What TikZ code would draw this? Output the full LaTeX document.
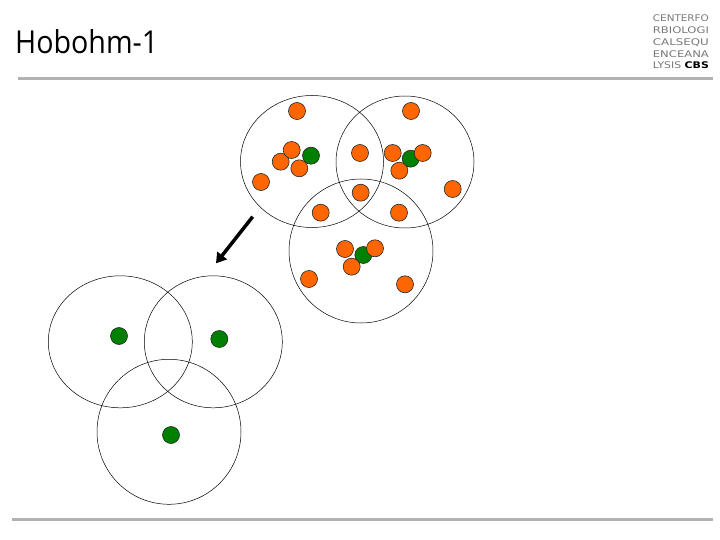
\documentclass[tikz,border=0pt]{standalone}
\usepackage{fontspec}
\setmainfont{DejaVu Sans}
\newfontfamily\titlefont{Open Sans}
\usetikzlibrary{arrows.meta}
\definecolor{dotorange}{RGB}{255,102,0}
\definecolor{dotgreen}{RGB}{0,128,0}
\definecolor{rulegray}{RGB}{178,178,178}
\definecolor{logogray}{RGB}{120,120,120}

\begin{document}
\begin{tikzpicture}[x=1pt, y=-1pt,
    seq/.style={circle, draw=black!85, line width=0.6pt, fill=dotorange, minimum size=17pt, inner sep=0pt},
    rep/.style={seq, fill=dotgreen},
    ring/.style={draw=black, line width=0.5pt},
    logoline/.style={anchor=base west, inner sep=0pt, text=logogray}]
  \useasboundingbox (0,0) rectangle (720,540);

  % header and footer
  \node[anchor=base west, inner sep=0pt] (title) at (15,53.3) {\titlefont\resizebox{143pt}{24pt}{Hobohm-1}};
  \node[logoline] (logo1) at (652.7,21.3) {\resizebox{56pt}{6.8pt}{CENTERFO}};
  \node[logoline] (logo2) at (652.7,33.3) {\resizebox{56pt}{6.8pt}{RBIOLOGI}};
  \node[logoline] (logo3) at (652.7,45.3) {\resizebox{56pt}{6.8pt}{CALSEQU}};
  \node[logoline] (logo4) at (652.7,57.3) {\resizebox{56pt}{6.8pt}{ENCEANA}};
  \node[logoline] (logo5) at (652.7,69) {\resizebox{56pt}{6.8pt}{LYSIS \textcolor{black}{\bfseries CBS}}};
  \draw[rulegray, line width=3pt] (18,78.5) -- (713,78.5);
  \draw[rulegray, line width=3pt] (12,519) -- (713,519);

  % clusters before
  \draw[ring] (312,161.5) ellipse [x radius=71.5pt, y radius=66pt];
  \draw[ring] (405,162) ellipse [x radius=69pt, y radius=66pt];
  \draw[ring] (361,251) ellipse [x radius=72pt, y radius=72pt];

  \node[seq] (a1) at (297,111) {};
  \node[seq] (a2) at (280.7,161.7) {};
  \node[seq] (a3) at (299.3,168.3) {};
  \node[seq] (a4) at (291.7,150) {};
  \node[rep] (ga) at (311,155.7) {};
  \node[seq] (a5) at (261,182) {};

  \node[seq] (m1) at (360,153) {};
  \node[seq] (m2) at (360.7,192.7) {};
  \node[seq] (m3) at (320.7,212.7) {};
  \node[seq] (m4) at (399,212.7) {};

  \node[rep] (gb) at (410.7,158.7) {};
  \node[seq] (b1) at (411,111) {};
  \node[seq] (b2) at (392.7,153) {};
  \node[seq] (b3) at (422.7,153) {};
  \node[seq] (b4) at (399.3,170.7) {};
  \node[seq] (b5) at (452.7,189) {};

  \node[rep] (gc) at (363.3,255) {};
  \node[seq] (c1) at (345,249) {};
  \node[seq] (c2) at (375,248.3) {};
  \node[seq] (c3) at (351.7,266.7) {};
  \node[seq] (c4) at (309,279) {};
  \node[seq] (c5) at (405,284.3) {};

  % arrow
  \coordinate (from) at (252.7,216.7);
  \coordinate (to) at (216,263.3);
  \draw[line width=3.5pt, -{Triangle[length=10pt, width=12pt]}] (from) -- (to);

  % clusters after
  \draw[ring] (120.3,341.8) ellipse [x radius=72pt, y radius=66pt];
  \draw[ring] (213.3,341.8) ellipse [x radius=69pt, y radius=66pt];
  \draw[ring] (169,431.8) ellipse [x radius=72pt, y radius=72.5pt];
  \node[rep] (ra) at (119,336) {};
  \node[rep] (rb) at (219.3,339) {};
  \node[rep] (rc) at (171,435) {};
\end{tikzpicture}
\end{document}
